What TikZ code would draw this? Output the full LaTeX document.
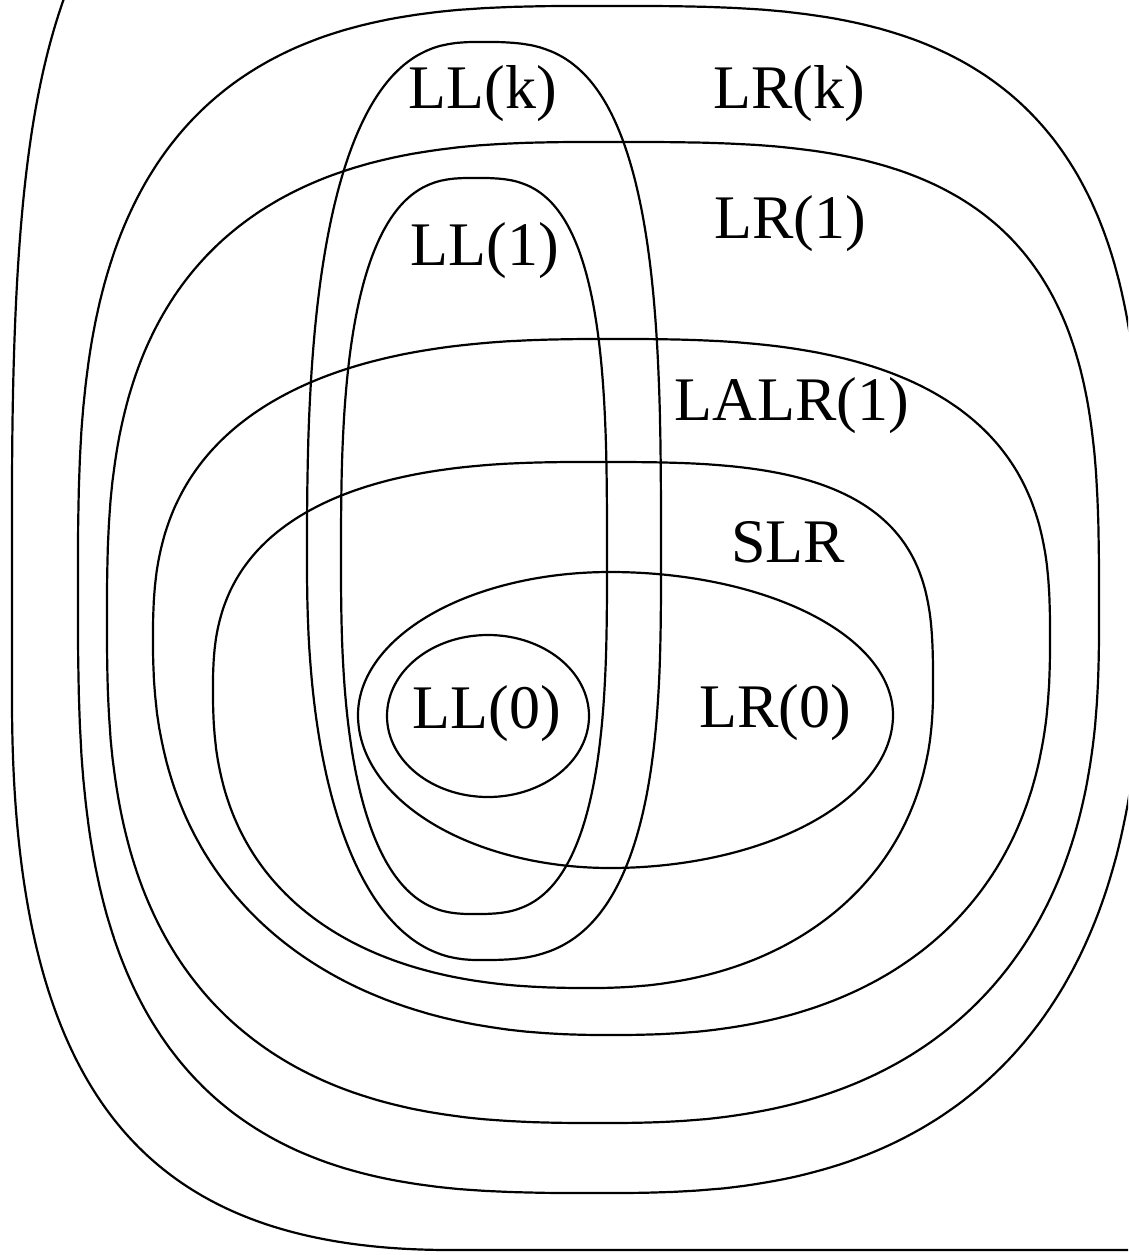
\documentclass[tikz,border=0pt]{standalone}
\usepackage{fontspec}
\setmainfont{Liberation Serif}

% superellipse exponents of the four quadrants: top-right, top-left, bottom-left, bottom-right
\newcommand{\cornerp}[4]{\def\nTR{#1}\def\nTL{#2}\def\nBL{#3}\def\nBR{#4}}
% closed region: centre (#1,#2), right reach #3, top reach #4, left reach #5, bottom reach #6
\newcommand{\regionpath}[6]{%
  \draw[setline] ({#1+#3},#2)
    -- plot[domain=0.01:89.99, samples=90, variable=\ang]
         ({#1+#3*cos(\ang)^(2/\nTR)}, {#2-#4*sin(\ang)^(2/\nTR)})
    -- (#1,{#2-#4})
    -- plot[domain=0.01:89.99, samples=90, variable=\ang]
         ({#1-#5*sin(\ang)^(2/\nTL)}, {#2-#4*cos(\ang)^(2/\nTL)})
    -- ({#1-#5},#2)
    -- plot[domain=0.01:89.99, samples=90, variable=\ang]
         ({#1-#5*cos(\ang)^(2/\nBL)}, {#2+#6*sin(\ang)^(2/\nBL)})
    -- (#1,{#2+#6})
    -- plot[domain=0.01:89.99, samples=90, variable=\ang]
         ({#1+#3*sin(\ang)^(2/\nBR)}, {#2+#6*cos(\ang)^(2/\nBR)})
    -- cycle;}

\begin{document}
\begin{tikzpicture}[x=1pt,y=-1pt,
  setline/.style={line width=2.2pt, line join=round},
  setlabel/.style={font=\fontsize{62}{70}\selectfont, inner sep=0pt, anchor=base}]
\useasboundingbox (0,0) rectangle (1128,1255);
\clip (0,0) rectangle (1128,1255);

% outermost region (all grammars)
\draw[setline] (110,-100) .. controls (40,20) and (12,150) .. (12,500) -- (12,700)
  .. controls (12,1100) and (150,1250) .. (450,1250) -- (1300,1250);

% LR(k)
\cornerp{3.2}{3}{3}{2.6}
\regionpath{602}{590}{540}{584}{524}{603}
% LR(1)
\cornerp{3.3}{2.8}{2.7}{2.5}
\regionpath{602}{620}{497}{478}{495}{503}
% LALR(1)
\cornerp{2.8}{2.6}{2.3}{2.4}
\regionpath{610}{640}{440}{301}{457}{395}
% SLR
\cornerp{3.2}{2.6}{2.4}{2.2}
\regionpath{590}{690}{343}{228}{377}{298}
% LR(0)
\cornerp{2}{2}{2}{2}
\regionpath{610}{715}{283}{143}{252}{153}
% LL(0)
\draw[setline] (488,716) ellipse [x radius=101pt, y radius=81pt];
% LL(k)
\cornerp{3.1}{2.65}{2.3}{2.9}
\regionpath{480}{560}{181}{518}{173}{400}
% LL(1)
\cornerp{3.1}{2.8}{2.6}{2.9}
\regionpath{474}{560}{133}{382}{133}{354}

% class names
\node[setlabel] (lbl-llk)  at (483,108) {LL(k)};
\node[setlabel] (lbl-lrk)  at (789,108) {LR(k)};
\node[setlabel] (lbl-ll1)  at (485,265) {LL(1)};
\node[setlabel] (lbl-lr1)  at (790,238) {LR(1)};
\node[setlabel] (lbl-lalr) at (792,420) {LALR(1)};
\node[setlabel] (lbl-slr)  at (788,562) {SLR};
\node[setlabel] (lbl-ll0)  at (487,728) {LL(0)};
\node[setlabel] (lbl-lr0)  at (775,727) {LR(0)};
\end{tikzpicture}
\end{document}
